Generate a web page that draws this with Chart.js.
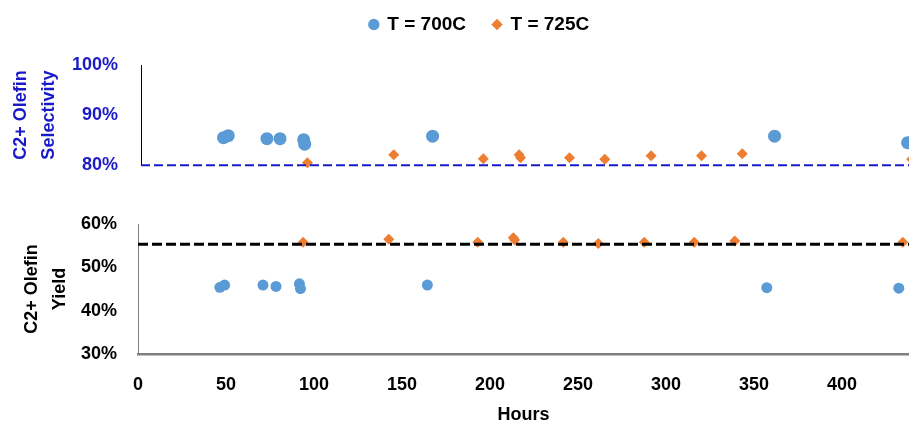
<!doctype html>
<html lang="en">
<head>
<meta charset="utf-8">
<title>C2+ Olefin selectivity and yield</title>
<script src="https://cdn.jsdelivr.net/npm/chart.js"></script>
<style>
    body { margin: 0; background: #fff; }
    #wrap { position: relative; width: 909px; height: 426px; overflow: hidden; }
    #wrap canvas { position: absolute; left: 0; }
    #topChart { top: 0; }
    #bottomChart { top: 180px; }
</style>
</head>
<body>
<div id="wrap">
    <canvas id="topChart" width="909" height="199"></canvas>
    <canvas id="bottomChart" width="909" height="246"></canvas>
</div>

<script>
// data (hours on stream)
const hours700 = [46.5, 49.2, 71, 78.4, 91.7, 92.3, 164.4, 357.2, 432.2];
const hours725 = [93.8, 142.5, 193, 213.2, 214, 241.6, 261.5, 287.6, 316, 339, 434.5];

// C2+ olefin selectivity (%)
const select700 = [85.5, 85.9, 85.3, 85.3, 85.1, 84.2, 85.8, 85.8, 84.5];
const select725 = [80.5, 82.1, 81.3, 82.1, 81.5, 81.5, 81.2, 81.9, 81.9, 82.3, 81.2];

// C2+ olefin yield (%)
const yield700 = [45.4, 45.9, 45.9, 45.6, 46.2, 45.1, 45.9, 45.3, 45.2];
const yield725 = [55.8, 56.5, 55.8, 56.8, 56.3, 55.8, 55.5, 55.8, 55.8, 56.1, 55.8];

// target lines
const selectTarget = 80;
const yieldTarget = 55.3;

const seriesLabels = ['T = 700C', 'T = 725C'];
const xTicks = [0, 50, 100, 150, 200, 250, 300, 350, 400];

const blue = '#5B9BD5';
const orange = '#ED7D31';
const axisBlue = '#1A1AC8';

Chart.defaults.font.family = "'Liberation Sans', Arial, sans-serif";
Chart.defaults.font.weight = 'bold';
Chart.defaults.font.size = 18;
Chart.defaults.color = '#000';

function pts(xs, ys) {
    return xs.map((x, i) => ({ x: x, y: ys[i] }));
}

// room under the legend + move it a little (right / up)
const legendPlace = {
    id: 'legendPlace',
    beforeInit(chart) {
        const fitValue = chart.legend.fit;
        chart.legend.fit = function fit() {
            fitValue.bind(chart.legend)();
            this.height += 9;
        };
    },
    afterLayout(chart) {
        const lg = chart.legend;
        lg.left += 25;
        lg.right += 25;
        lg.top -= 12;
        lg.bottom -= 12;
    }
};

// ---- top panel : selectivity
new Chart(document.getElementById('topChart'), {
    type: 'scatter',
    data: {
        datasets: [{
            label: seriesLabels[0],
            data: pts(hours700, select700),
            pointStyle: 'circle',
            pointRadius: 6.5,
            pointBorderWidth: 0,
            backgroundColor: blue,
            borderColor: blue,
            clip: false
        }, {
            label: seriesLabels[1],
            data: pts(hours725, select725),
            pointStyle: 'rectRot',
            pointRadius: 5.5,
            pointBorderWidth: 0,
            backgroundColor: orange,
            borderColor: orange,
            clip: false
        }, {
            label: 'target',
            data: [{ x: 0, y: selectTarget }, { x: 433, y: selectTarget }],
            showLine: true,
            pointRadius: 0,
            borderColor: axisBlue,
            borderWidth: 2,
            borderDash: [9, 4],
            order: -1,
            clip: false
        }]
    },
    options: {
        responsive: false,
        animation: false,
        layout: { autoPadding: false, padding: 0 },
        plugins: {
            legend: {
                position: 'top',
                labels: {
                    usePointStyle: true,
                    boxWidth: 8,
                    boxHeight: 8,
                    padding: 27,
                    color: '#000',
                    font: { size: 19, weight: 'bold' },
                    filter: item => item.datasetIndex < 2
                }
            },
            tooltip: { enabled: false }
        },
        scales: {
            x: { type: 'linear', display: false, min: 0, max: 433 },
            y: {
                min: 80,
                max: 100,
                ticks: { stepSize: 10, color: axisBlue, padding: 23, callback: v => v + '%' },
                grid: { display: false, drawTicks: false },
                border: { display: true, color: '#000', width: 1 },
                title: {
                    display: true,
                    text: ['C2+ Olefin', 'Selectivity'],
                    color: axisBlue,
                    font: { size: 18, weight: 'bold', lineHeight: 1.55 },
                    padding: { top: 7, bottom: 0 }
                },
                afterFit(scale) { scale.width = 141; }
            }
        }
    },
    plugins: [legendPlace]
});

// ---- bottom panel : yield
new Chart(document.getElementById('bottomChart'), {
    type: 'scatter',
    data: {
        datasets: [{
            label: seriesLabels[0],
            data: pts(hours700, yield700),
            pointStyle: 'circle',
            pointRadius: 5.5,
            pointBorderWidth: 0,
            backgroundColor: blue,
            borderColor: blue,
            clip: false
        }, {
            label: seriesLabels[1],
            data: pts(hours725, yield725),
            pointStyle: 'rectRot',
            pointRadius: 5.5,
            pointBorderWidth: 0,
            backgroundColor: orange,
            borderColor: orange,
            clip: false
        }, {
            label: 'target',
            data: [{ x: 0, y: yieldTarget }, { x: 438, y: yieldTarget }],
            showLine: true,
            pointRadius: 0,
            borderColor: '#000',
            borderWidth: 3,
            borderDash: [10, 4],
            order: -1,
            clip: false
        }]
    },
    options: {
        responsive: false,
        animation: false,
        layout: { autoPadding: false, padding: { top: 44, right: 0, bottom: 0, left: 0 } },
        plugins: {
            legend: { display: false },
            tooltip: { enabled: false }
        },
        scales: {
            x: {
                type: 'linear',
                min: 0,
                max: 438,
                afterBuildTicks(scale) { scale.ticks = xTicks.map(v => ({ value: v })); },
                ticks: { color: '#000', padding: 20 },
                grid: { display: false, drawTicks: false },
                border: { display: true, color: '#808080', width: 2.5 },
                title: {
                    display: true,
                    text: 'Hours',
                    color: '#000',
                    font: { size: 18, weight: 'bold' },
                    padding: { top: 9, bottom: 0 }
                },
                afterFit(scale) { scale.height = 72; }
            },
            y: {
                min: 30,
                max: 60,
                ticks: { stepSize: 10, color: '#000', padding: 21, callback: v => v + '%' },
                grid: { display: false, drawTicks: false },
                border: { display: true, color: '#808080', width: 1 },
                title: {
                    display: true,
                    text: ['C2+ Olefin', 'Yield'],
                    color: '#000',
                    font: { size: 18, weight: 'bold', lineHeight: 1.55 },
                    padding: { top: 18, bottom: 0 }
                },
                afterFit(scale) { scale.width = 138; }
            }
        }
    }
});
</script>
</body>
</html>
